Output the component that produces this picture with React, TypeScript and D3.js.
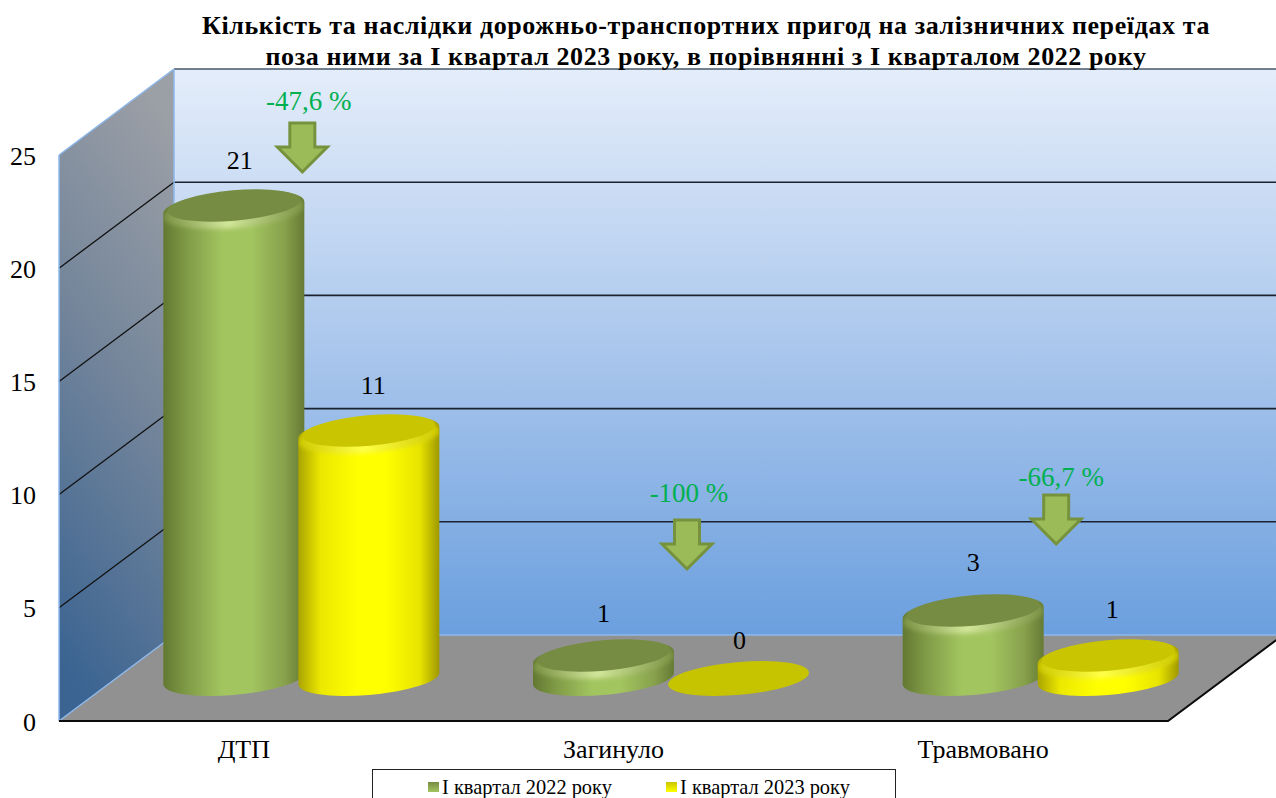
import { useEffect, useRef } from "react";
import * as d3 from "d3";

const WIDTH = 1276;
const HEIGHT = 798;

const titleLines = [
  "Кількість та наслідки дорожньо-транспортних пригод на залізничних переїдах та",
  "поза ними за І квартал 2023 року, в порівнянні з І кварталом 2022 року",
];
const categories = ["ДТП", "Загинуло", "Травмовано"];
const seriesNames = ["І квартал 2022 року", "І квартал 2023 року"];
const values2022 = [21, 1, 3];
const values2023 = [11, 0, 1];
const changeLabels = ["-47,6 %", "-100 %", "-66,7 %"];
const yTicks = [0, 5, 10, 15, 20, 25];

// box geometry of the fake 3D chart
const FRONT_LEFT = 59;
const FRONT_RIGHT = 1168;
const FRONT_BOTTOM = 721;
const FRONT_TOP = 155;
const DEPTH_X = 115;
const DEPTH_Y = 86;
const BAR_SHIFT = 57.5; // bars stand halfway into the box
const BAR_BASE = 678.5;
const TOP_DROP = 1.5; // bevel eats a little of the height

// tilted ellipse of a cylinder end
const RX = 70.7;
const RY = 16.4;
const TILT = -5;
const EDGE_X = 70.5;
const EDGE_Y = 5.8;

// hand placement of the annotations, relative to the category centre
const arrowDx = [58.5, 73.5, 73];
const arrowTipY = [172, 569, 544];
const changeDx = [65, 75.5, 78];
const changeBaseline = [110, 502, 486];
const labelNudge2022 = [6, 0, 0];
const labelNudge2023 = [4.5, 1, 4];
const labelRise2022 = [37, 34, 40];
const labelRise2023 = [37, 30, 38];

const palette = [
  { edgeL: "#627831", shade: "#7f9a46", mid: "#a3c560", shadeR: "#87a14c", edgeR: "#667a34", top: "#778c43", bevelEdge: "#7a9244", bevelMid: "#d2e79a", flat: "#778c43" },
  { edgeL: "#aaa400", shade: "#ece800", mid: "#ffff00", shadeR: "#e8e400", edgeR: "#9f9800", top: "#c9c500", bevelEdge: "#cfca00", bevelMid: "#ffff48", flat: "#c6c300" },
];

const App = () => {
  const svgRef = useRef<SVGSVGElement>(null);

  useEffect(() => {
    const svg = d3.select(svgRef.current);
    svg.selectAll("*").remove();

    const defs = svg.append("defs");

    const linear = (id, x1, y1, x2, y2, stops) => {
      const g = defs
        .append("linearGradient")
        .attr("id", id)
        .attr("x1", x1)
        .attr("y1", y1)
        .attr("x2", x2)
        .attr("y2", y2);
      stops.forEach(([offset, color]) =>
        g.append("stop").attr("offset", offset).attr("stop-color", color)
      );
    };

    linear("backWall", 0, 0, 0, 1, [
      [0, "#e4edfa"],
      [0.5, "#a9c6ec"],
      [1, "#6b9fde"],
    ]);
    linear("sideWall", 0.62, 0, 0.38, 1, [
      [0, "#9b9fa6"],
      [0.45, "#75869b"],
      [1, "#3b6492"],
    ]);
    palette.forEach((p, i) => {
      linear(`body${i}`, 0, 0, 1, 0, [
        [0, p.edgeL],
        [0.16, p.shade],
        [0.42, p.mid],
        [0.62, p.mid],
        [0.86, p.shadeR],
        [1, p.edgeR],
      ]);
      linear(`bevel${i}`, 0, 0, 1, 0, [
        [0, p.bevelEdge],
        [0.45, p.bevelMid],
        [1, p.bevelEdge],
      ]);
      linear(`marker${i}`, 0, 0, 0, 1, [
        [0, p.top],
        [1, i ? "#ffff00" : "#a3c560"],
      ]);
    });
    defs
      .append("filter")
      .attr("id", "soft")
      .attr("x", "-10%")
      .attr("y", "-30%")
      .attr("width", "120%")
      .attr("height", "160%")
      .append("feGaussianBlur")
      .attr("stdDeviation", 2.2);

    const serif = "'Liberation Serif', serif";

    // scales: front edge of the box, back wall and the plane the bars stand on
    const wallY = d3.scaleLinear().domain([0, 25]).range([FRONT_BOTTOM, FRONT_TOP]);
    const barY = d3.scaleLinear().domain([0, 25]).range([BAR_BASE, BAR_BASE - 562.5]);
    const x = d3.scaleBand().domain(categories).range([FRONT_LEFT, FRONT_RIGHT]);
    const seriesX = d3.scaleBand().domain(seriesNames).range([-135, 135]);
    const centre = (c) => x(c) + x.bandwidth() / 2;

    const chart = svg.append("g");
    const backLeft = FRONT_LEFT + DEPTH_X;

    chart
      .append("rect")
      .attr("x", backLeft)
      .attr("y", wallY(25) - DEPTH_Y)
      .attr("width", WIDTH - backLeft)
      .attr("height", wallY(0) - wallY(25))
      .attr("fill", "url(#backWall)");

    chart
      .append("path")
      .attr(
        "d",
        d3.line()([
          [FRONT_LEFT, wallY(0)],
          [FRONT_LEFT, wallY(25)],
          [backLeft, wallY(25) - DEPTH_Y],
          [backLeft, wallY(0) - DEPTH_Y],
        ]) + "Z"
      )
      .attr("fill", "url(#sideWall)");

    chart
      .append("path")
      .attr(
        "d",
        d3.line()([
          [FRONT_LEFT, wallY(0)],
          [backLeft, wallY(0) - DEPTH_Y],
          [FRONT_RIGHT + DEPTH_X, wallY(0) - DEPTH_Y],
          [FRONT_RIGHT, wallY(0)],
        ]) + "Z"
      )
      .attr("fill", "#919191");

    // grid lines run along the side wall and the back wall
    yTicks.slice(1).forEach((t) => {
      const y0 = wallY(t);
      const y1 = y0 - DEPTH_Y;
      const top = t === 25;
      chart
        .append("line")
        .attr("x1", FRONT_LEFT)
        .attr("y1", y0)
        .attr("x2", backLeft)
        .attr("y2", y1)
        .attr("stroke", top ? "#8db9ec" : "#111")
        .attr("stroke-width", top ? 1.5 : 1.3);
      chart
        .append("line")
        .attr("x1", backLeft)
        .attr("y1", y1)
        .attr("x2", WIDTH)
        .attr("y2", y1)
        .attr("stroke", top ? "#47566a" : "#1a2230")
        .attr("stroke-width", 1.6);
    });

    // light edges of the walls and floor
    [
      [[FRONT_LEFT, wallY(0)], [FRONT_LEFT, wallY(25)]],
      [[backLeft, wallY(0) - DEPTH_Y], [backLeft, wallY(25) - DEPTH_Y]],
      [[FRONT_LEFT, wallY(0)], [backLeft, wallY(0) - DEPTH_Y]],
      [[backLeft, wallY(0) - DEPTH_Y], [WIDTH, wallY(0) - DEPTH_Y]],
    ].forEach((seg) => {
      chart
        .append("path")
        .attr("d", d3.line()(seg))
        .attr("fill", "none")
        .attr("stroke", "#8db9ec")
        .attr("stroke-width", 1.5);
    });

    chart
      .append("path")
      .attr(
        "d",
        d3.line()([
          [FRONT_LEFT, wallY(0)],
          [FRONT_RIGHT, wallY(0)],
          [FRONT_RIGHT + DEPTH_X, wallY(0) - DEPTH_Y],
        ])
      )
      .attr("fill", "none")
      .attr("stroke", "#0c0c0c")
      .attr("stroke-width", 2);

    // cylinders
    const ellipse = (parent, cx, cy, rx, ry) =>
      parent
        .append("ellipse")
        .attr("cx", cx)
        .attr("cy", cy)
        .attr("rx", rx)
        .attr("ry", ry)
        .attr("transform", `rotate(${TILT} ${cx} ${cy})`);

    const bars = [values2022, values2023].flatMap((vals, s) =>
      categories.map((c, i) => ({
        s,
        value: vals[i],
        cx: centre(c) + BAR_SHIFT + seriesX(seriesNames[s]) + seriesX.bandwidth() / 2,
      }))
    );
    // left to right so each cylinder overlaps the previous one
    bars.sort((a, b) => a.cx - b.cx);

    bars.forEach((b, i) => {
      const p = palette[b.s];
      const topY = barY(b.value) + TOP_DROP;
      const group = chart.append("g");
      if (b.value === 0) {
        ellipse(group, b.cx, BAR_BASE, RX, RY).attr("fill", p.flat);
        return;
      }
      const arc = `A${RX} ${RY} ${TILT} 0 0`;
      const d =
        `M${b.cx - EDGE_X} ${topY + EDGE_Y}` +
        `L${b.cx - EDGE_X} ${BAR_BASE + EDGE_Y}` +
        `${arc} ${b.cx + EDGE_X} ${BAR_BASE - EDGE_Y}` +
        `L${b.cx + EDGE_X} ${topY - EDGE_Y}` +
        `${arc} ${b.cx - EDGE_X} ${topY + EDGE_Y}Z`;
      defs.append("clipPath").attr("id", `barClip${i}`).append("path").attr("d", d);
      group.append("path").attr("d", d).attr("fill", `url(#body${b.s})`);
      const bevel = group.append("g").attr("clip-path", `url(#barClip${i})`);
      ellipse(bevel, b.cx, topY + 4, RX, RY)
        .attr("fill", `url(#bevel${b.s})`)
        .attr("filter", "url(#soft)");
      ellipse(group, b.cx, topY - 2, RX - 4, RY - 1.2).attr("fill", p.top);
    });

    // y axis numbers on the front edge of the side wall
    const yAxis = chart
      .append("g")
      .attr("transform", `translate(${FRONT_LEFT - 23},0.8)`)
      .call(d3.axisLeft(wallY).tickValues(yTicks).tickSize(0).tickPadding(0));
    yAxis.select(".domain").remove();
    yAxis
      .selectAll("text")
      .attr("font-family", serif)
      .attr("font-size", 26)
      .attr("fill", "#000");

    // category names under the floor
    const xAxis = chart
      .append("g")
      .attr("transform", `translate(0,${FRONT_BOTTOM})`)
      .call(d3.axisBottom(x).tickSize(0).tickPadding(19));
    xAxis.select(".domain").remove();
    xAxis
      .selectAll("text")
      .attr("font-family", serif)
      .attr("font-size", 26)
      .attr("fill", "#000");

    // value labels above the bars
    const valueLabel = (vals, s, nudge, rise) => {
      chart
        .selectAll(`.value${s}`)
        .data(categories)
        .enter()
        .append("text")
        .attr("class", `value${s}`)
        .attr(
          "x",
          (c, i) => centre(c) + BAR_SHIFT + seriesX(seriesNames[s]) + seriesX.bandwidth() / 2 + nudge[i]
        )
        .attr("y", (c, i) => barY(vals[i]) - rise[i])
        .attr("text-anchor", "middle")
        .attr("font-family", serif)
        .attr("font-size", 26)
        .attr("fill", "#000")
        .text((c, i) => vals[i]);
    };
    valueLabel(values2022, 0, labelNudge2022, labelRise2022);
    valueLabel(values2023, 1, labelNudge2023, labelRise2023);

    // change arrows and percentages
    categories.forEach((c, i) => {
      const tipX = centre(c) + arrowDx[i];
      const tipY = arrowTipY[i];
      chart
        .append("path")
        .attr(
          "d",
          d3.line()([
            [tipX, tipY],
            [tipX + 25, tipY - 25],
            [tipX + 12.5, tipY - 25],
            [tipX + 12.5, tipY - 49],
            [tipX - 12.5, tipY - 49],
            [tipX - 12.5, tipY - 25],
            [tipX - 25, tipY - 25],
          ]) + "Z"
        )
        .attr("fill", "#9bbb59")
        .attr("stroke", "#76923c")
        .attr("stroke-width", 3);
      chart
        .append("text")
        .attr("x", centre(c) + changeDx[i])
        .attr("y", changeBaseline[i])
        .attr("text-anchor", "middle")
        .attr("font-family", serif)
        .attr("font-size", 27)
        .attr("fill", "#00b050")
        .text(changeLabels[i]);
    });

    // title
    svg
      .append("g")
      .selectAll("text")
      .data(titleLines)
      .enter()
      .append("text")
      .attr("x", 706)
      .attr("y", (d, i) => 34 + i * 31)
      .attr("text-anchor", "middle")
      .attr("font-family", serif)
      .attr("font-weight", "bold")
      .attr("font-size", 26)
      .attr("letter-spacing", 0.6)
      .attr("fill", "#000")
      .text((d) => d);

    // legend, cut off by the bottom of the picture
    const legend = svg.append("g");
    legend
      .append("rect")
      .attr("x", 372.5)
      .attr("y", 769.5)
      .attr("width", 523)
      .attr("height", 40)
      .attr("fill", "#fff")
      .attr("stroke", "#222")
      .attr("stroke-width", 1);
    const legendX = d3.scaleOrdinal().domain(seriesNames).range([428, 666]);
    seriesNames.forEach((name, s) => {
      const lx = legendX(name);
      legend
        .append("rect")
        .attr("x", lx)
        .attr("y", 782)
        .attr("width", 11)
        .attr("height", 10)
        .attr("fill", `url(#marker${s})`);
      legend
        .append("text")
        .attr("x", lx + 14)
        .attr("y", 794)
        .attr("font-family", serif)
        .attr("font-size", 20.4)
        .attr("fill", "#000")
        .text(name);
    });
  }, []);

  return (
    <svg
      ref={svgRef}
      width={WIDTH}
      height={HEIGHT}
      style={{ position: "absolute", left: 0, top: 0, display: "block" }}
    />
  );
};

export default App;
